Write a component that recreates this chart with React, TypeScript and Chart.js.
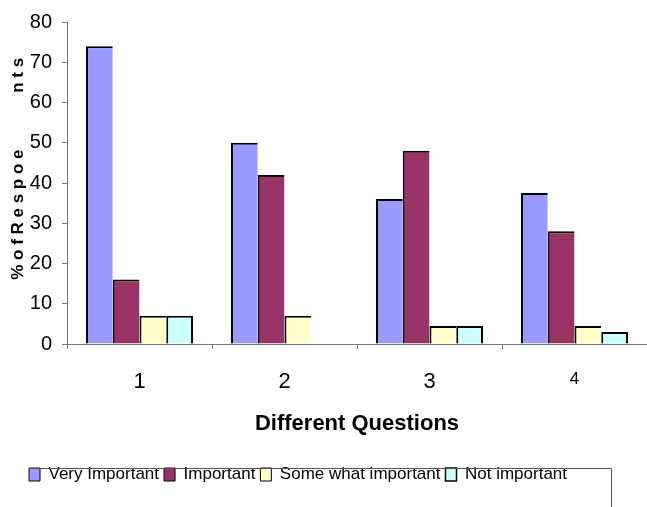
import React, { useEffect, useRef } from "react";
import { Chart, registerables } from "chart.js";

Chart.register(...registerables);

const categories = ["1", "2", "3", "4"];
const seriesNames = ["Very Important", "Important", "Some what important", "Not important"];
const veryImportant = [74, 50, 36, 37.5];
const important = [16, 42, 48, 28];
const someWhatImportant = [7, 7, 4.5, 4.5];
const notImportant = [7, 0, 4.5, 3];
const yTicks = [0, 10, 20, 30, 40, 50, 60, 70, 80];
const colors = ["#9999FF", "#993366", "#FFFFCC", "#CCFFFF"];

const FONT = "'Liberation Sans', Arial, sans-serif";
const LEGEND_LEFT = 24;

const legendFrame = {
  id: "legendFrame",
  beforeDraw(chart: any) {
    const lg = chart.legend;
    if (lg) lg.left = LEGEND_LEFT;
  },
  afterDraw(chart: any) {
    const lg = chart.legend;
    if (!lg || !lg.legendHitBoxes || !lg.legendHitBoxes.length) return;
    const boxes = lg.legendHitBoxes;
    const first = boxes[0];
    const last = boxes[boxes.length - 1];
    const ctx = chart.ctx;
    const pad = lg.options.labels.padding;
    const shift = LEGEND_LEFT + pad - first.left;
    const y = first.top + 2;
    const x0 = first.left + shift;
    const x1 = last.left + shift + last.width + 44;
    ctx.save();
    ctx.strokeStyle = "#555";
    ctx.lineWidth = 1;
    ctx.beginPath();
    ctx.moveTo(x0, y + 0.5);
    ctx.lineTo(x1 + 0.5, y + 0.5);
    ctx.lineTo(x1 + 0.5, chart.height);
    ctx.stroke();
    ctx.restore();
  },
};

export default function App() {
  const ref = useRef<HTMLCanvasElement | null>(null);
  useEffect(() => {
    if (!ref.current) return;
    const values = [veryImportant, important, someWhatImportant, notImportant];
    const chart = new Chart(ref.current, {
      type: "bar",
      data: {
        labels: categories,
        datasets: values.map((v, i) => ({
          label: seriesNames[i],
          data: v,
          backgroundColor: colors[i],
          borderColor: "#000",
          borderWidth: i === 3 ? { top: 2, left: 2, right: 2, bottom: 0 } : { top: 2, left: 2, right: 0, bottom: 0 },
          borderSkipped: false,
          categoryPercentage: 0.738,
          barPercentage: 1,
        })),
      },
      options: {
        animation: false,
        responsive: true,
        maintainAspectRatio: false,
        layout: { padding: { top: 18, left: 0, right: 0, bottom: 14 } },
        plugins: {
          tooltip: { enabled: false },
          legend: {
            position: "bottom",
            align: "start",
            labels: {
              boxWidth: 11,
              boxHeight: 13,
              padding: 5,
              color: "#000",
              font: { family: FONT, size: 17 },
            },
          },
        },
        scales: {
          x: {
            afterFit: (s: any) => {
              s.height = 117;
            },
            grid: { display: true, drawOnChartArea: false, drawTicks: true, tickLength: 5, color: "#777", offset: true },
            border: { display: true, color: "#777", width: 1 },
            ticks: {
              color: "#000",
              padding: 20,
              font: (c: any) => ({ family: FONT, size: c.index === 3 ? 17 : 22 }),
            },
            title: {
              display: true,
              text: "Different Questions",
              color: "#000",
              font: { family: FONT, size: 22, weight: "bold", lineHeight: 1.2 },
              padding: { top: 0, bottom: 24 },
            },
          },
          y: {
            min: 0,
            max: 80,
            afterFit: (s: any) => {
              s.width = 67;
            },
            afterBuildTicks: (s: any) => {
              s.ticks = yTicks.map((v) => ({ value: v }));
            },
            grid: { display: true, drawOnChartArea: false, drawTicks: true, tickLength: 5, color: "#777" },
            border: { display: true, color: "#777", width: 1 },
            ticks: {
              color: "#000",
              padding: 10,
              font: { family: FONT, size: 20 },
            },
            title: {
              display: true,
              text: "      % o f R e s p o e            n t s",
              color: "#000",
              font: { family: FONT, size: 17, weight: "bold", lineHeight: 1.2 },
              padding: { top: 8, bottom: 0 },
            },
          },
        },
      },
      plugins: [legendFrame],
    });
    return () => chart.destroy();
  }, []);
  return (
    <div style={{ position: "fixed", left: 0, top: 0, width: 647, height: 507, background: "#fff" }}>
      <canvas ref={ref} />
    </div>
  );
}
